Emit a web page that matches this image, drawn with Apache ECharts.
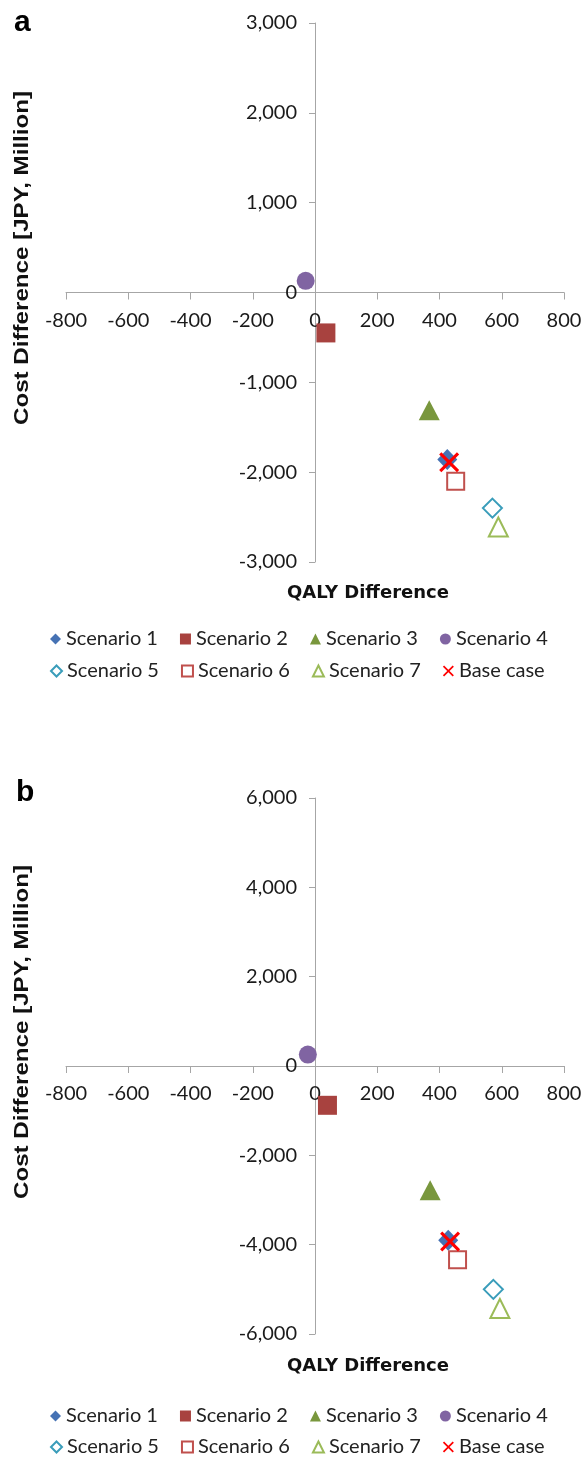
<!DOCTYPE html>
<html>
<head>
	<meta charset="UTF-8">
	<title>QALY vs cost difference</title>
	<script src="https://cdn.jsdelivr.net/npm/echarts@6.0.0/dist/echarts.min.js"></script>
	<style>
		html, body { margin: 0; padding: 0; background: #fff; }
		#main { width: 587px; height: 1457px; }
	</style>
</head>
<body>
	<div id="main"></div>
	<script>
		var names = ['Scenario 1', 'Scenario 2', 'Scenario 3', 'Scenario 4', 'Scenario 5', 'Scenario 6', 'Scenario 7', 'Base case'];
		// panel a
		var qalyA = [425, 35, 367, -30, 570, 452, 589, 431];
		var costA = [-1860, -450, -1310, 130, -2400, -2100, -2610, -1890];
		// panel b
		var qalyB = [428, 40, 370, -23, 573, 458, 594, 434];
		var costB = [-3900, -880, -2780, 255, -5000, -4340, -5430, -3930];
		// min, max, step
		var xRange = [-800, 800, 200];
		var yRangeA = [-3000, 3000, 1000];
		var yRangeB = [-6000, 6000, 2000];

		var cross = 'path://M0,1.1L1.1,0L5,3.9L8.9,0L10,1.1L6.1,5L10,8.9L8.9,10L5,6.1L1.1,10L0,8.9L3.9,5Z';
		var marks = [
			{ symbol: 'diamond', size: [20, 21], color: '#4672b4' },
			{ symbol: 'rect', size: 19, color: '#a8423f' },
			{ symbol: 'triangle', size: [21, 20], color: '#79973d' },
			{ symbol: 'circle', size: 18, color: '#8064a2' },
			{ symbol: 'diamond', size: [19, 19], color: '#3a9dba', hollow: true },
			{ symbol: 'rect', size: 17, color: '#c0504d', hollow: true },
			{ symbol: 'triangle', size: [19, 19], color: '#9bbb59', hollow: true },
			{ symbol: cross, size: 20, color: '#ff0000' }
		];

		var grids = [
			{ left: 66, top: 23, width: 498, height: 539 },
			{ left: 66, top: 798, width: 498, height: 536 }
		];
		var axisGrey = '#a6a6a6';
		var tickFont = 'Lato';

		// axes cross at zero, which sits mid-plot since ranges are symmetric
		function xAxisFor(g) {
			return {
				gridIndex: g, type: 'value', position: 'bottom',
				offset: -grids[g].height / 2,
				min: xRange[0], max: xRange[1], interval: xRange[2],
				axisLine: { onZero: false, lineStyle: { color: axisGrey, width: 1 } },
				axisTick: { length: 7, lineStyle: { color: axisGrey } },
				axisLabel: { margin: 18, color: '#1a1a1a', fontSize: 20, fontFamily: tickFont },
				splitLine: { show: false }
			};
		}
		function yAxisFor(g, r) {
			return {
				gridIndex: g, type: 'value', position: 'left',
				offset: -grids[g].width / 2,
				min: r[0], max: r[1], interval: r[2],
				axisLine: { onZero: false, lineStyle: { color: axisGrey, width: 1 } },
				axisTick: { length: 6, lineStyle: { color: axisGrey } },
				axisLabel: {
					margin: 18, color: '#1a1a1a', fontSize: 20, fontFamily: tickFont,
					formatter: function (v) { return v.toLocaleString('en-US'); }
				},
				splitLine: { show: false }
			};
		}

		var series = [];
		function addPanel(g, qaly, cost) {
			for (var i = 0; i < names.length; i++) {
				var m = marks[i];
				var style = m.hollow
					? { color: '#fff', borderColor: m.color, borderWidth: 2, opacity: 1 }
					: { color: m.color, borderWidth: 0, opacity: 1 };
				series.push({
					name: names[i], type: 'scatter',
					xAxisIndex: g, yAxisIndex: g,
					symbol: m.symbol, symbolSize: m.size,
					itemStyle: style,
					data: [[qaly[i], cost[i]]]
				});
			}
		}
		addPanel(0, qalyA, costA);
		addPanel(1, qalyB, costB);

		function legendRow(top, from) {
			return {
				data: names.slice(from, from + 4), left: 50, top: top, padding: 0,
				itemGap: 22, itemWidth: 11, itemHeight: 11,
				textStyle: { fontFamily: tickFont, fontSize: 20, color: '#222' }
			};
		}

		function yTitle(y) {
			return {
				type: 'text', x: 22, y: y, rotation: Math.PI / 2, scaleX: 1.15,
				style: {
					text: 'Cost Difference [JPY, Million]', fill: '#111',
					fontSize: 21, fontWeight: 'bold', fontFamily: 'Liberation Sans',
					align: 'center', verticalAlign: 'middle'
				}
			};
		}
		function xTitle(y) {
			return {
				type: 'text', x: 368, y: y,
				style: {
					text: 'QALY Difference', fill: '#111',
					fontSize: 18, fontWeight: 'bold', fontFamily: 'DejaVu Sans',
					align: 'center', verticalAlign: 'middle'
				}
			};
		}

		var myChart = echarts.init(document.getElementById('main'));
		myChart.setOption({
			animation: false,
			title: [
				{ text: 'a', left: 14, top: 8, padding: 0, textStyle: { fontSize: 30, fontWeight: 'bold', fontFamily: 'Liberation Sans', color: '#000' } },
				{ text: 'b', left: 16, top: 778, padding: 0, textStyle: { fontSize: 30, fontWeight: 'bold', fontFamily: 'Liberation Sans', color: '#000' } }
			],
			grid: grids.map(function (g) {
				return { left: g.left, top: g.top, width: g.width, height: g.height, outerBoundsMode: 'none' };
			}),
			xAxis: [xAxisFor(0), xAxisFor(1)],
			yAxis: [yAxisFor(0, yRangeA), yAxisFor(1, yRangeB)],
			legend: [legendRow(629, 0), legendRow(661, 4), legendRow(1406, 0), legendRow(1437, 4)],
			graphic: [yTitle(258), yTitle(1032), xTitle(593), xTitle(1366)],
			series: series
		});
	</script>
</body>
</html>
